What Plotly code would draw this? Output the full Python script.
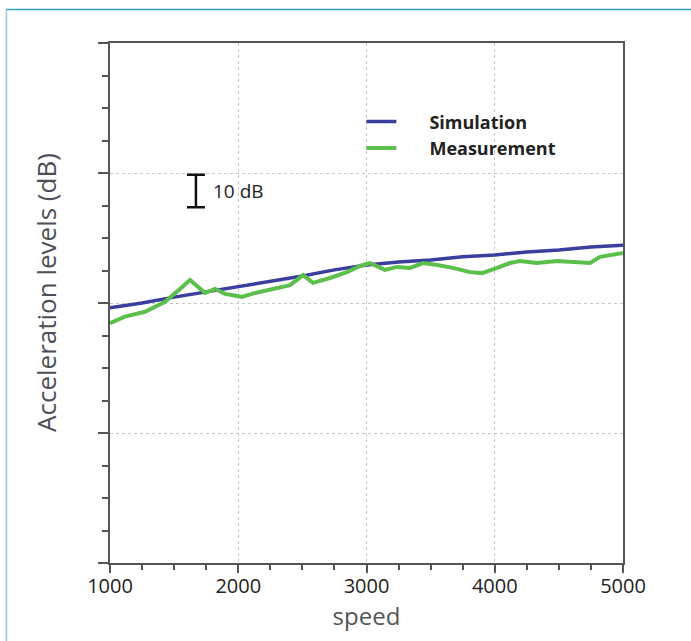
import plotly.graph_objects as go

# Speed axis values (rpm) and acceleration levels (dB, relative scale)
sim_speed = [1000, 1250, 1500, 1750, 2000, 2250, 2500, 2750, 3000,
             3250, 3500, 3750, 4000, 4250, 4500, 4750, 5000]
sim_level = [78.5, 80.0, 81.8, 83.4, 84.9, 86.5, 88.3, 90.2, 91.7,
             92.6, 93.2, 94.2, 94.8, 95.7, 96.3, 97.2, 97.8]

meas_speed = [1000, 1117, 1273, 1429, 1522, 1624, 1741, 1819, 1897, 2029,
              2131, 2232, 2310, 2404, 2505, 2583, 2715, 2848, 2949, 3027,
              3144, 3238, 3339, 3441, 3550, 3674, 3807, 3901, 4018, 4119,
              4197, 4329, 4485, 4610, 4743, 4821, 4922, 5000]
meas_level = [73.8, 75.8, 77.3, 80.4, 83.5, 87.1, 83.1, 84.3, 82.8, 81.9,
              83.1, 84.0, 84.6, 85.5, 88.6, 86.2, 87.7, 89.5, 91.4, 92.3,
              90.2, 91.1, 90.8, 92.3, 91.7, 90.8, 89.5, 89.2, 90.8, 92.3,
              92.9, 92.3, 92.9, 92.6, 92.3, 94.2, 94.8, 95.4]

x_ticks = [1000, 2000, 3000, 4000, 5000]
x_tick_labels = ["1000", "2000", "3000", "4000", "5000"]

# scale bar (10 dB)
bar_x = [1670]
bar_y = [114.5]
bar_half = [5]

BLUE = "#3a3e9f"
GREEN = "#5cbf4c"
AXIS = "#555555"
PAD = "\u00a0" * 6

fig = go.Figure()
fig.add_trace(go.Scatter(x=sim_speed, y=sim_level, mode="lines", name=PAD + "Simulation",
                         line=dict(color=BLUE, width=3.5), hoverinfo="skip"))
fig.add_trace(go.Scatter(x=meas_speed, y=meas_level, mode="lines", name=PAD + "Measurement",
                         line=dict(color=GREEN, width=4), hoverinfo="skip"))
fig.add_trace(go.Scatter(x=bar_x, y=bar_y, mode="markers", showlegend=False,
                         marker=dict(size=1, opacity=0), hoverinfo="skip",
                         error_y=dict(type="data", array=bar_half, symmetric=True,
                                      color="#111111", thickness=2.5, width=9)))

fig.add_annotation(x=1790, y=114.5, text="10 dB", showarrow=False, xanchor="left",
                   yanchor="middle", font=dict(family="Open Sans", size=19, color="#222222"))

fig.add_annotation(xref="paper", yref="paper", x=-0.125, y=0.521, text="Acceleration levels (dB)",
                   textangle=-90, showarrow=False, xanchor="center", yanchor="middle",
                   font=dict(family="Open Sans", size=26, color="#4d4d57"))

# outer frame
frame = "#3aa0be"
fig.add_shape(type="line", xref="paper", yref="paper", x0=-0.2027, x1=1.14,
              y0=1.0644, y1=1.0644, line=dict(color=frame, width=1.5))
fig.add_shape(type="line", xref="paper", yref="paper", x0=-0.2018, x1=-0.2018,
              y0=1.0644, y1=-0.16, line=dict(color="#8fcbe0", width=1.5))

fig.update_layout(
    width=691, height=641,
    margin=dict(l=110, r=68, t=43, b=78),
    paper_bgcolor="white", plot_bgcolor="white",
    showlegend=True,
    legend=dict(x=0.49, y=0.884, xanchor="left", yanchor="top",
                bgcolor="rgba(0,0,0,0)",
                font=dict(family="Open Sans", size=18, color="#222222", weight="bold")),
    xaxis=dict(range=[1000, 5000], tickvals=x_ticks, ticktext=x_tick_labels,
               showline=True, linecolor=AXIS, linewidth=2, mirror=True,
               ticks="outside", ticklen=8, tickwidth=2, tickcolor=AXIS,
               ticklabelstandoff=-4,
               minor=dict(dtick=250, ticks="outside", ticklen=5, tickwidth=1.5,
                          tickcolor=AXIS, showgrid=False),
               showgrid=True, gridcolor="#c8c8c8", griddash="dot", gridwidth=1,
               zeroline=False,
               tickfont=dict(family="Open Sans", size=20, color="#222222"),
               title=dict(text="speed", standoff=0,
                          font=dict(family="Open Sans", size=24, color="#555555"))),
    yaxis=dict(range=[0, 160], dtick=40, showticklabels=False,
               showline=True, linecolor=AXIS, linewidth=2, mirror=True,
               ticks="outside", ticklen=10, tickwidth=2, tickcolor=AXIS,
               minor=dict(dtick=10, ticks="outside", ticklen=6, tickwidth=1.5,
                          tickcolor=AXIS, showgrid=False),
               showgrid=True, gridcolor="#c8c8c8", griddash="dot", gridwidth=1,
               zeroline=False),
)

fig.write_html("out.html")
